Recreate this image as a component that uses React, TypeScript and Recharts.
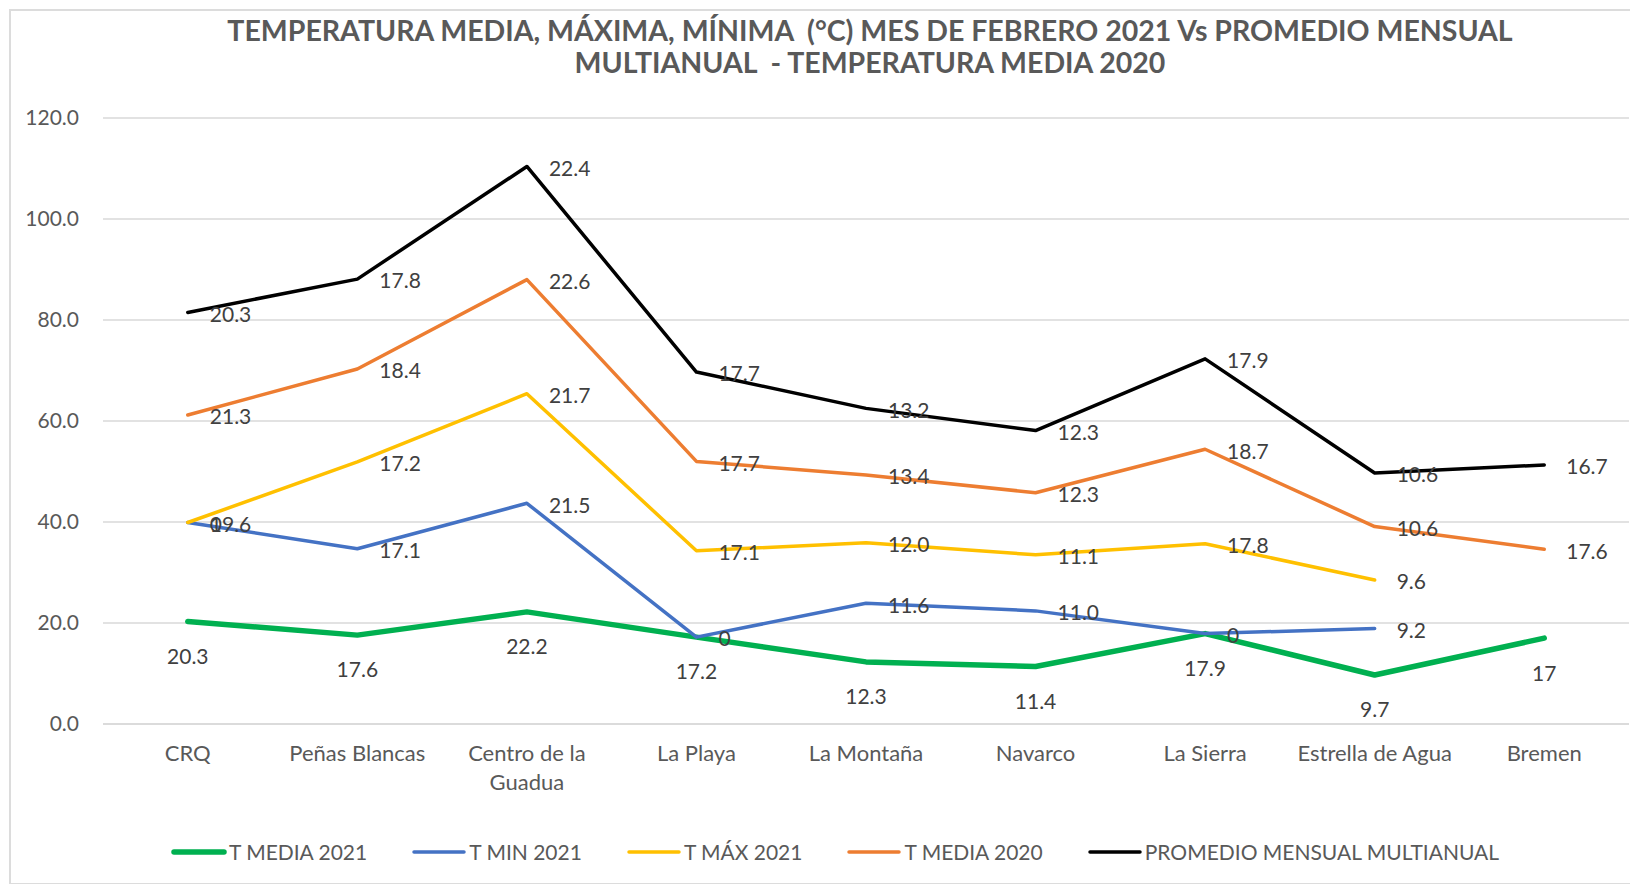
import { LineChart, Line, XAxis, YAxis, CartesianGrid } from "recharts";

const categories = [
  "CRQ",
  "Peñas Blancas",
  "Centro de la Guadua",
  "La Playa",
  "La Montaña",
  "Navarco",
  "La Sierra",
  "Estrella de Agua",
  "Bremen",
];

const tMedia2021 = [20.3, 17.6, 22.2, 17.2, 12.3, 11.4, 17.9, 9.7, 17];
const tMin2021 = [19.6, 17.1, 21.5, 0, 11.6, 11.0, 0, 9.2, null];
const tMax2021 = [0, 17.2, 21.7, 17.1, 12.0, 11.1, 17.8, 9.6, null];
const tMedia2020 = [21.3, 18.4, 22.6, 17.7, 13.4, 12.3, 18.7, 10.6, 17.6];
const promedio = [20.3, 17.8, 22.4, 17.7, 13.2, 12.3, 17.9, 10.6, 16.7];

const yTicks = [0, 20, 40, 60, 80, 100, 120];

const series = [
  { key: "m21", name: "T MEDIA 2021", values: tMedia2021, color: "#00B050", width: 5.5, below: true },
  { key: "min21", name: "T MIN 2021", values: tMin2021, color: "#4472C4", width: 3.5, below: false },
  { key: "max21", name: "T MÁX 2021", values: tMax2021, color: "#FFC000", width: 3.5, below: false },
  { key: "m20", name: "T MEDIA 2020", values: tMedia2020, color: "#ED7D31", width: 3.5, below: false },
  { key: "prom", name: "PROMEDIO MENSUAL MULTIANUAL", values: promedio, color: "#000000", width: 3.5, below: false },
];

// stacked line chart: every series sits on top of the previous ones
const rows = categories.map((name, i) => {
  const row: Record<string, any> = { name };
  let base = 0;
  series.forEach((s) => {
    const v = s.values[i];
    if (v == null) {
      row[s.key] = null;
    } else {
      base += v;
      row[s.key] = Math.round(base * 10) / 10;
    }
  });
  return row;
});

const FONT = "Lato, 'Open Sans', sans-serif";
const TEXT = "#404040";
const AXIS_TEXT = "#595959";

const wrapLabel = (s: string) => {
  if (s.length <= 17) return [s];
  const cut = s.lastIndexOf(" ", 13);
  return [s.slice(0, cut), s.slice(cut + 1)];
};

const CategoryTick = (props: any) => {
  const { x, y, payload } = props;
  const lines = wrapLabel(String(payload.value));
  return (
    <text x={x} y={y + 37} textAnchor="middle" fill={AXIS_TEXT} fontSize={22} fontFamily={FONT}>
      {lines.map((l, i) => (
        <tspan key={i} x={x} dy={i === 0 ? 0 : 29}>
          {l}
        </tspan>
      ))}
    </text>
  );
};

const makeLabel = (values: (number | null)[], below: boolean) => (props: any) => {
  const { x, y, index } = props;
  const v = values[index];
  if (v == null || x == null || y == null) return <g />;
  if (below) {
    return (
      <text x={x} y={y + 35} dy="0.35em" textAnchor="middle" fill={TEXT} fontSize={21} fontFamily={FONT}>
        {String(v)}
      </text>
    );
  }
  return (
    <text x={x + 22} y={y + 2} dy="0.35em" textAnchor="start" fill={TEXT} fontSize={21} fontFamily={FONT}>
      {v === 0 ? "0" : v.toFixed(1)}
    </text>
  );
};

const App = () => {
  return (
    <div
      style={{
        position: "relative",
        left: 1,
        top: 1,
        width: 1629,
        height: 876,
        borderLeft: "2px solid #dcdcdc",
        borderTop: "2px solid #dcdcdc",
        borderBottom: "2px solid #dcdcdc",
        boxSizing: "border-box",
        fontFamily: FONT,
      }}
    >
      <div
        style={{
          position: "absolute",
          left: 0,
          top: 3,
          width: 1718,
          textAlign: "center",
          color: AXIS_TEXT,
          fontWeight: 700,
          fontSize: 28.5,
          lineHeight: "32px",
        }}
      >
        <div>TEMPERATURA MEDIA, MÁXIMA, MÍNIMA&nbsp; (°C) MES DE FEBRERO 2021 Vs PROMEDIO MENSUAL</div>
        <div>MULTIANUAL&nbsp; - TEMPERATURA MEDIA 2020</div>
      </div>
      <div style={{ position: "absolute", left: 0, top: 0 }}>
        <LineChart width={1629} height={876} data={rows} margin={{ top: 107, right: 11, left: 0, bottom: 103 }}>
          <CartesianGrid vertical={false} stroke="#d9d9d9" strokeWidth={1.5} />
          <XAxis
            dataKey="name"
            scale="band"
            interval={0}
            height={60}
            tickSize={0}
            tickMargin={0}
            tickLine={false}
            axisLine={{ stroke: "#d9d9d9", strokeWidth: 1.5 }}
            tick={<CategoryTick />}
          />
          <YAxis
            domain={[0, 120]}
            ticks={yTicks}
            width={92}
            axisLine={false}
            tickLine={false}
            tickSize={0}
            tickMargin={24}
            tickFormatter={(v: number) => v.toFixed(1)}
            tick={{ fill: AXIS_TEXT, fontSize: 21, fontFamily: FONT }}
          />
          {series.map((s) => (
            <Line
              key={s.key}
              type="linear"
              dataKey={s.key}
              name={s.name}
              stroke={s.color}
              strokeWidth={s.width}
              strokeLinecap="round"
              strokeLinejoin="round"
              dot={false}
              activeDot={false}
              isAnimationActive={false}
              label={makeLabel(s.values, s.below)}
            />
          ))}
        </LineChart>
      </div>
      <div
        style={{
          position: "absolute",
          left: 160,
          top: 828,
          display: "flex",
          alignItems: "center",
          gap: 44,
          color: AXIS_TEXT,
          fontSize: 21,
          whiteSpace: "nowrap",
        }}
      >
        {series.map((s) => (
          <div key={s.key} style={{ display: "flex", alignItems: "center" }}>
            <svg width={56} height={10}>
              <line x1={3} y1={5} x2={53} y2={5} stroke={s.color} strokeWidth={s.width} strokeLinecap="round" />
            </svg>
            <span style={{ marginLeft: 2 }}>{s.name}</span>
          </div>
        ))}
      </div>
    </div>
  );
};

export default App;
